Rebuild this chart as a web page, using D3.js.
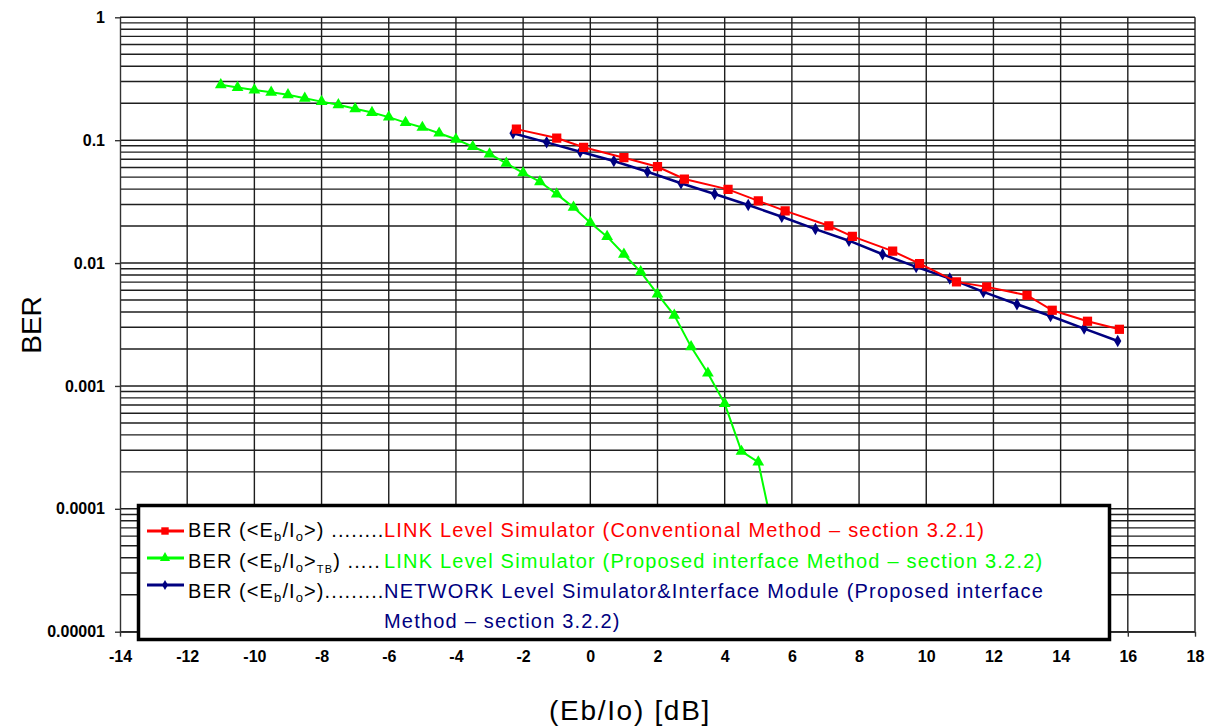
<!DOCTYPE html>
<html>
<head>
<meta charset="utf-8">
<script src="https://cdn.jsdelivr.net/npm/d3@7"></script>
<style>
  body { margin: 0; background: #fff; }
  svg { display: block; font-family: "Liberation Sans", Arial, sans-serif; }
</style>
</head>
<body>
<div id="chart"></div>
<script>
// BER vs Eb/Io - three simulators, log scale y axis

const linkX = [-2.2, -1.0, -0.2, 1.0, 2.0, 2.8, 4.1, 5.0, 5.8, 7.1, 7.8, 9.0, 9.8, 10.9, 11.8, 13.0, 13.75, 14.8, 15.75];
const linkBer = [0.123, 0.104, 0.0875, 0.072, 0.0608, 0.0483, 0.0398, 0.0321, 0.0266, 0.0201, 0.0165, 0.0125, 0.0099, 0.00703, 0.0064, 0.00547, 0.00413, 0.00336, 0.00289];

const tbX = [-11, -10.5, -10, -9.5, -9, -8.5, -8, -7.5, -7, -6.5, -6, -5.5, -5, -4.5, -4, -3.5, -3, -2.5, -2, -1.5, -1, -0.5, 0, 0.5, 1, 1.5, 2, 2.5, 3, 3.5, 4, 4.5, 5, 5.5];
const tbBer = [0.282, 0.268, 0.256, 0.245, 0.234, 0.219, 0.206, 0.194, 0.18, 0.168, 0.154, 0.139, 0.127, 0.114, 0.1017, 0.0885, 0.0772, 0.0648, 0.0543, 0.0459, 0.0364, 0.0284, 0.0213, 0.0164, 0.0118, 0.00848, 0.00558, 0.00376, 0.00208, 0.00127, 0.000718, 0.000293, 0.00024, 0.000055];

const netX = [-2.3, -1.3, -0.3, 0.7, 1.7, 2.7, 3.7, 4.7, 5.7, 6.7, 7.7, 8.7, 9.7, 10.7, 11.7, 12.7, 13.7, 14.7, 15.7];
const netBer = [0.114, 0.096, 0.0806, 0.0677, 0.0554, 0.0446, 0.0365, 0.0297, 0.0238, 0.0189, 0.0152, 0.0118, 0.0093, 0.00749, 0.00582, 0.00462, 0.00371, 0.00293, 0.00232];

const xTicks = [-14, -12, -10, -8, -6, -4, -2, 0, 2, 4, 6, 8, 10, 12, 14, 16, 18];
const yTicks = [1, 0.1, 0.01, 0.001, 0.0001, 0.00001];
const yTickLabels = ["1", "0.1", "0.01", "0.001", "0.0001", "0.00001"];

const W = 1209, H = 726;
const plot = { left: 120, right: 1195, top: 17.3, bottom: 631.7 };

const svg = d3.select("#chart").append("svg")
    .attr("width", W)
    .attr("height", H);

const x = d3.scaleLinear().domain([-14, 18]).range([plot.left, plot.right]);
const y = d3.scaleLog().domain([0.00001, 1]).range([plot.bottom, plot.top]);

// grid lines (every minor log step, every 2 dB)
const minor = [];
yTicks.slice(1).forEach(d => { for (let k = 1; k <= 9; k++) minor.push(d * k); });
minor.push(1);

const grid = svg.append("g");
grid.selectAll(".hgrid")
    .data(minor)
    .enter().append("line")
    .attr("x1", plot.left).attr("x2", plot.right)
    .attr("y1", d => y(d)).attr("y2", d => y(d))
    .attr("stroke", "#1e1e1e")
    .attr("stroke-width", 1.4);
grid.selectAll(".vgrid")
    .data(xTicks.slice(1))
    .enter().append("line")
    .attr("x1", d => x(d)).attr("x2", d => x(d))
    .attr("y1", plot.top).attr("y2", plot.bottom)
    .attr("stroke", "#1e1e1e")
    .attr("stroke-width", 1.4);

// axes
const yAxis = svg.append("g")
    .attr("transform", `translate(${plot.left},0)`)
    .call(d3.axisLeft(y).tickValues(yTicks).tickSize(5).tickSizeOuter(0)
        .tickFormat((d, i) => yTickLabels[i]));
yAxis.select(".domain").attr("stroke", "#333").attr("stroke-width", 1.4);
yAxis.selectAll(".tick line").attr("stroke", "#333").attr("stroke-width", 1.4);
yAxis.selectAll("text")
    .attr("x", -15)
    .style("font-family", "Liberation Sans, Arial, sans-serif")
    .style("font-size", "16px")
    .style("font-weight", "bold")
    .attr("fill", "#000");

const xAxis = svg.append("g")
    .attr("transform", `translate(0,${plot.bottom})`)
    .call(d3.axisBottom(x).tickValues(xTicks).tickSize(5).tickSizeOuter(0)
        .tickFormat(d => String(d)));
xAxis.select(".domain").attr("stroke", "#333").attr("stroke-width", 1.4);
xAxis.selectAll(".tick line").attr("stroke", "#333").attr("stroke-width", 1.4);
xAxis.selectAll("text")
    .attr("y", 19)
    .style("font-family", "Liberation Sans, Arial, sans-serif")
    .style("font-size", "16px")
    .style("font-weight", "bold")
    .attr("fill", "#000");

// axis titles
svg.append("text")
    .attr("transform", `translate(41,325) rotate(-90)`)
    .attr("text-anchor", "middle")
    .style("font-size", "28px")
    .attr("fill", "#000")
    .text("BER");

svg.append("text")
    .attr("x", 630).attr("y", 720)
    .attr("text-anchor", "middle")
    .style("font-size", "28px")
    .style("letter-spacing", "1.7px")
    .attr("fill", "#000")
    .text("(Eb/Io) [dB]");

// data series
svg.append("clipPath").attr("id", "plotClip")
    .append("rect")
    .attr("x", plot.left).attr("y", plot.top)
    .attr("width", plot.right - plot.left).attr("height", plot.bottom - plot.top);

const dataG = svg.append("g").attr("clip-path", "url(#plotClip)");

const series = [
    { xs: tbX, ys: tbBer, color: "#00ff00", width: 2, symbol: d3.symbolTriangle, size: 60 },
    { xs: netX, ys: netBer, color: "#000080", width: 2.5, symbol: d3.symbolDiamond, size: 45 },
    { xs: linkX, ys: linkBer, color: "#ff0000", width: 2, symbol: d3.symbolSquare, size: 85 }
];

series.forEach(s => {
    const pts = s.xs.map((v, i) => [v, s.ys[i]]);
    dataG.append("path")
        .datum(pts)
        .attr("fill", "none")
        .attr("stroke", s.color)
        .attr("stroke-width", s.width)
        .attr("d", d3.line().x(d => x(d[0])).y(d => y(d[1])));
    dataG.selectAll(null)
        .data(pts)
        .enter().append("path")
        .attr("transform", d => `translate(${x(d[0])},${y(d[1])})`)
        .attr("d", d3.symbol().type(s.symbol).size(s.size))
        .attr("fill", s.color);
});

// legend box
const legend = svg.append("g");
legend.append("rect")
    .attr("x", 138.5).attr("y", 505.5)
    .attr("width", 971).attr("height", 134)
    .attr("fill", "#fff")
    .attr("stroke", "#000")
    .attr("stroke-width", 3.5);

const legendRows = [
    { color: "#ff0000", symbol: d3.symbolSquare, size: 55, lineY: 531, base: 537, sub3: null, dots: " ........",
      desc: "LINK Level Simulator (Conventional Method \u2013 section 3.2.1)" },
    { color: "#00ff00", symbol: d3.symbolTriangle, size: 45, lineY: 558, base: 568, sub3: "TB", dots: " .....",
      desc: "LINK Level Simulator (Proposed interface Method \u2013 section 3.2.2)" },
    { color: "#000080", symbol: d3.symbolDiamond, size: 30, lineY: 585, base: 598, sub3: null, dots: ".........",
      desc: "NETWORK Level Simulator&Interface Module (Proposed interface" }
];

legendRows.forEach(r => {
    legend.append("line")
        .attr("x1", 147).attr("x2", 184)
        .attr("y1", r.lineY).attr("y2", r.lineY)
        .attr("stroke", r.color).attr("stroke-width", 3);
    legend.append("path")
        .attr("transform", `translate(165,${r.lineY})`)
        .attr("d", d3.symbol().type(r.symbol).size(r.size))
        .attr("fill", r.color);

    const t = legend.append("text")
        .attr("x", 188).attr("y", r.base)
        .style("font-size", "20px")
        .style("letter-spacing", "1.1px")
        .attr("fill", "#000");
    t.append("tspan").text("BER (<E");
    t.append("tspan").attr("dy", 4).style("font-size", "13px").text("b");
    t.append("tspan").attr("dy", -4).text("/I");
    t.append("tspan").attr("dy", 4).style("font-size", "13px").text("o");
    t.append("tspan").attr("dy", -4).text(">");
    if (r.sub3) {
        t.append("tspan").attr("dy", 5).style("font-size", "11px").text(r.sub3);
        t.append("tspan").attr("dy", -5).text(")" + r.dots);
    } else {
        t.append("tspan").text(")" + r.dots);
    }

    legend.append("text")
        .attr("x", 384).attr("y", r.base)
        .style("font-size", "20px")
        .style("letter-spacing", "1.2px")
        .attr("fill", r.color)
        .text(r.desc);
});

legend.append("text")
    .attr("x", 384).attr("y", 628)
    .style("font-size", "20px")
    .style("letter-spacing", "1.2px")
    .attr("fill", "#000080")
    .text("Method \u2013 section 3.2.2)");
</script>
</body>
</html>
